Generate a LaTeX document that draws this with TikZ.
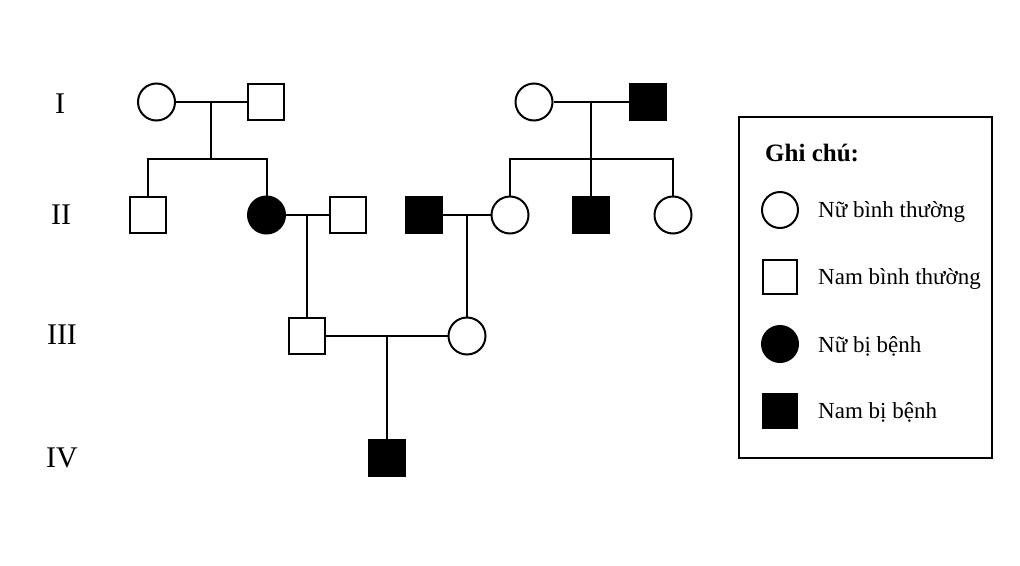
\documentclass[tikz,border=0pt]{standalone}
\usepackage{fontspec}
\setmainfont{Liberation Serif}
\usetikzlibrary{calc}
\begin{document}
\begin{tikzpicture}[x=1pt,y=-1pt,
  ln/.style={line width=2pt},
  fem/.style={circle,draw,ln,inner sep=0pt,minimum size=37pt,fill=white},
  mal/.style={rectangle,draw,ln,inner sep=0pt,minimum size=36pt,fill=white},
  aff/.style={fill=black},
  gen/.style={font=\fontsize{30}{32}\selectfont},
  lgtxt/.style={anchor=west,inner sep=0pt,font=\fontsize{23}{25}\selectfont}]
\useasboundingbox (0,0) rectangle (1020,565);
% generation labels
\node[gen] (gI) at (60,104) {I};
\node[gen] (gII) at (61,215) {II};
\node[gen] (gIII) at (62,335) {III};
\node[gen] (gIV) at (62,458) {IV};
% generation I
\node[fem] (I1) at (156.5,102) {};
\node[mal] (I2) at (266,102) {};
\node[fem] (I3) at (534,102) {};
\node[mal,aff] (I4) at (648,102) {};
% generation II
\node[mal] (II1) at (147.5,215) {};
\node[fem,aff] (II2) at (266.5,215) {};
\node[mal] (II3) at (347.5,215) {};
\node[mal,aff] (II4) at (424,215) {};
\node[fem] (II5) at (510,215) {};
\node[mal,aff] (II6) at (591,215) {};
\node[fem] (II7) at (673,215) {};
% generation III
\node[mal] (III1) at (307,336) {};
\node[fem] (III2) at (467,336) {};
% generation IV
\node[mal,aff] (IV1) at (387,458) {};
% marriage midpoints
\coordinate (m1) at ($(I1)!0.5!(I2)$);
\coordinate (m2) at ($(II2)!0.5!(II3)$);
\coordinate (m3) at ($(I3)!0.5!(I4)$);
\coordinate (m4) at ($(II4)!0.5!(II5)$);
\coordinate (m5) at ($(III1)!0.5!(III2)$);
\coordinate (s1) at (m1 |- 0,159);
\coordinate (s2) at (m3 |- 0,159);
% connectors
\draw[ln] (I1) -- (I2);
\draw[ln] (I3) -- (I4);
\draw[ln] (II2) -- (II3);
\draw[ln] (II4) -- (II5);
\draw[ln] (III1) -- (III2);
\draw[ln] (m1) -- (s1);
\draw[ln] (II1.north) |- (s1) -| (II2.north);
\draw[ln] (m3) -- (II6);
\draw[ln] (II5.north) |- (s2) -| (II7.north);
\draw[ln] (m2) -- (III1);
\draw[ln] (m4) -- (III2);
\draw[ln] (m5) -- (IV1);
% legend
\node[draw,ln,rectangle,minimum width=253pt,minimum height=341pt,inner sep=0pt] (leg) at (865,287.5) {};
\node[anchor=west,inner sep=0pt,font=\fontsize{25}{27}\selectfont\bfseries] (lgt) at (765,153) {Ghi chú:};
\node[fem,minimum size=36pt] (lc1) at (780,210) {};
\node[lgtxt] (lt1) at (818,212) {Nữ bình thường};
\node[mal,minimum size=34pt] (ls1) at (780,277) {};
\node[lgtxt] (lt2) at (818,279) {Nam bình thường};
\node[fem,aff,minimum size=36pt] (lc2) at (780,344) {};
\node[lgtxt] (lt3) at (818,346) {Nữ bị bệnh};
\node[mal,aff,minimum size=34pt] (ls2) at (780,411) {};
\node[lgtxt] (lt4) at (818,412) {Nam bị bệnh};
\end{tikzpicture}
\end{document}
